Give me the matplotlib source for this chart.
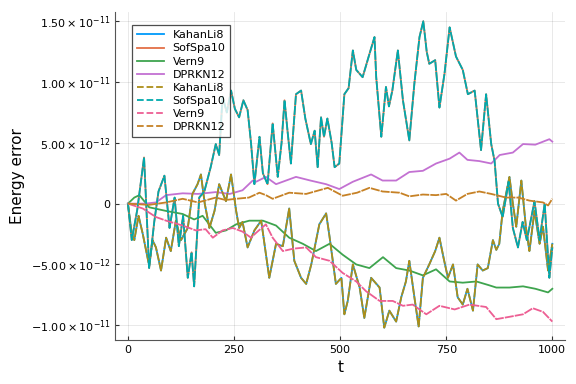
import numpy as np
import matplotlib
matplotlib.use('Agg')
import matplotlib.pyplot as plt
from matplotlib.ticker import FixedLocator, FixedFormatter

# values, energy error in units of 1e-12
t_kahan = [0, 9, 15, 25, 35, 50, 58, 66, 78, 90, 101, 113, 125, 141, 152, 164, 172, 181, 192, 204,
           215, 231, 243, 255, 262, 270, 282, 298, 314, 333, 349, 365, 380, 392, 408, 420, 432, 451,
           467, 475, 490, 503, 510, 518, 530, 546, 557, 573, 593, 604, 616, 632, 644, 655, 663, 675,
           685, 695, 710, 724, 734, 744, 754, 766, 777, 789, 800, 813, 824, 836, 848, 860, 868, 875,
           883, 899, 907, 915, 927, 938, 946, 958, 970, 978, 990, 1000]
e_kahan = [0, -2.5, -3.0, -1.0, -2.5, -5.1, -3.0, -3.6, -5.5, -2.8, -3.9, -1.4, -3.0, -2.0, 0.8, 1.6,
           2.4, 0.0, -2.0, -0.6, 1.6, 0.2, 2.4, -0.6, -2.0, -1.5, -3.6, -2.2, -1.4, -6.1, -3.3, -3.5,
           -0.4, -4.7, -6.1, -6.6, -5.0, -1.7, -0.8, -2.7, -6.6, -6.1, -9.1, -8.0, -5.0, -6.9, -9.4,
           -6.1, -6.9, -10.2, -8.8, -9.7, -7.7, -6.4, -4.7, -7.7, -10.1, -6.1, -5.0, -3.9, -2.8, -4.5,
           -6.1, -5.0, -7.7, -8.3, -7.0, -8.8, -5.0, -5.5, -5.3, -3.0, -3.8, -3.3, -0.6, 2.2, 0.0,
           -1.9, 1.9, -2.0, -3.9, -0.6, -3.3, -1.9, -5.5, -3.3]

t_sofspa = [0, 9, 22, 38, 50, 62, 72, 86, 98, 110, 120, 130, 141, 150, 156, 168, 180, 195, 207, 215,
            223, 233, 243, 252, 262, 272, 282, 290, 298, 310, 318, 329, 341, 353, 362, 369, 376, 384,
            396, 408, 418, 431, 440, 447, 455, 462, 470, 480, 487, 498, 510, 520, 530, 538, 553, 569,
            581, 585, 597, 608, 615, 623, 636, 648, 663, 675, 687, 696, 704, 710, 724, 734, 746, 758,
            773, 789, 801, 817, 832, 844, 856, 864, 872, 883, 897, 907, 919, 930, 940, 958, 970, 982,
            993, 1000]
e_sofspa = [0, -3.0, -0.5, 3.8, -5.3, -1.5, 1.0, 2.3, -2.0, 0.5, -3.5, -1.0, -6.1, -4.0, -6.8, 0.5,
            1.0, 3.0, 4.9, 4.0, 8.8, 7.5, 9.3, 7.8, 7.1, 8.5, 7.7, 5.0, 1.6, 5.5, 2.5, 1.6, 6.6, 2.2,
            5.0, 8.5, 6.0, 3.3, 9.0, 9.3, 7.0, 4.9, 6.0, 3.0, 7.1, 5.5, 7.0, 5.0, 3.0, 3.3, 9.0, 9.5,
            12.6, 11.0, 10.4, 12.3, 13.7, 10.4, 5.5, 9.6, 8.0, 9.3, 12.6, 8.5, 5.2, 9.9, 13.7, 15.0,
            12.5, 11.5, 11.8, 7.9, 10.7, 14.5, 12.1, 11.0, 9.0, 9.3, 4.4, 9.0, 4.9, 3.5, 0.0, -1.1,
            1.8, -2.0, -3.6, -1.5, -3.0, 0.2, -3.0, 0.0, -6.1, -3.6]

t_vern = [0, 15, 27, 50, 90, 129, 156, 176, 207, 231, 255, 286, 318, 349, 380, 412, 443, 475, 506,
          538, 569, 601, 632, 663, 695, 726, 758, 789, 821, 850, 868, 899, 931, 960, 990, 1000]
e_vern = [0, 0.5, 0.7, -0.3, -0.6, -0.85, -1.3, -1.0, -2.4, -2.2, -1.7, -1.4, -1.4, -1.8, -2.8, -3.3,
          -3.9, -3.3, -4.2, -5.0, -5.3, -4.4, -5.3, -5.5, -5.9, -5.4, -6.4, -6.5, -6.4, -6.7, -6.9,
          -6.9, -6.8, -7.0, -7.3, -7.0]

t_dprkn = [0, 40, 66, 90, 129, 165, 207, 240, 270, 294, 302, 325, 349, 396, 430, 467, 498, 530, 573,
           600, 632, 663, 695, 726, 758, 781, 800, 828, 856, 876, 907, 931, 960, 993, 1000]
e_dprkn = [0, 0.0, 0.1, 0.7, 0.85, 0.8, 0.95, 0.8, 1.1, 1.9, 1.8, 2.2, 1.6, 2.2, 1.9, 1.6, 1.2, 1.8,
           2.4, 1.9, 1.9, 2.6, 2.7, 3.3, 3.7, 4.2, 3.6, 3.5, 3.3, 4.0, 4.2, 4.9, 4.85, 5.3, 5.1]

# second run (dashed)
t_vern_b = [0, 35, 66, 90, 129, 160, 183, 200, 223, 247, 270, 290, 302, 325, 341, 365, 390, 420, 443,
            475, 506, 538, 561, 593, 624, 648, 671, 703, 734, 770, 805, 844, 868, 900, 931, 954, 978, 1000]
e_vern_b = [0, -0.4, -1.1, -1.4, -1.8, -2.2, -2.1, -2.8, -2.2, -2.0, -2.3, -2.8, -2.4, -1.7, -2.8,
            -3.9, -3.7, -3.6, -4.4, -4.7, -5.7, -6.4, -7.2, -8.0, -8.0, -8.4, -8.3, -9.1, -8.4, -8.7,
            -8.3, -8.5, -9.5, -9.3, -9.1, -8.6, -8.9, -9.7]

t_dprkn_b = [0, 50, 90, 129, 165, 207, 230, 255, 285, 310, 325, 341, 380, 420, 471, 506, 540, 569, 600,
             640, 663, 695, 726, 750, 773, 800, 828, 856, 891, 920, 946, 978, 990, 1000]
e_dprkn_b = [0, -0.1, 0.1, 0.4, 0.1, 0.5, 0.3, 0.4, 0.5, 0.9, 0.7, 0.4, 0.9, 0.8, 1.3, 0.65, 0.9, 1.3,
             1.0, 0.9, 0.6, 0.75, 0.7, 0.8, 0.25, 0.8, 1.0, 0.8, 0.5, 0.5, 0.25, 0.1, -0.15, 0.4]

ytick_vals = [-10, -5, 0, 5, 10, 15]
ytick_labels = [r'$-1.00\times10^{-11}$', r'$-5.00\times10^{-12}$', '0',
                r'$5.00\times10^{-12}$', r'$1.00\times10^{-11}$', r'$1.50\times10^{-11}$']
xtick_vals = [0, 250, 500, 750, 1000]

s = 1e-12
fig = plt.figure(figsize=(5.76, 3.84), dpi=100)
ax = fig.add_axes([0.2, 0.115, 0.781, 0.855])

lw = 1.3
tight = (0, (5, 0.6))  # dense data in the original hides most dash gaps
ax.plot(t_kahan, np.array(e_kahan) * s, color='#009AFA', lw=lw)
ax.plot(t_sofspa, np.array(e_sofspa) * s, color='#E36F47', lw=lw)
ax.plot(t_vern, np.array(e_vern) * s, color='#3EA44E', lw=lw)
ax.plot(t_dprkn, np.array(e_dprkn) * s, color='#C371D2', lw=lw)
ax.plot(t_kahan, np.array(e_kahan) * s, color='#AC8E18', lw=lw, ls=tight)
ax.plot(t_sofspa, np.array(e_sofspa) * s, color='#00A9AD', lw=lw, ls=tight)
ax.plot(t_vern_b, np.array(e_vern_b) * s, color='#ED5E93', lw=lw, ls=tight)
ax.plot(t_dprkn_b, np.array(e_dprkn_b) * s, color='#C68125', lw=lw, ls=tight)

names = ['KahanLi8', 'SofSpa10', 'Vern9', 'DPRKN12'] * 2
colors = ['#009AFA', '#E36F47', '#3EA44E', '#C371D2', '#AC8E18', '#00A9AD', '#ED5E93', '#C68125']
styles = ['-'] * 4 + ['--'] * 4
handles = [plt.Line2D([], [], color=c, ls=st, lw=lw) for c, st in zip(colors, styles)]

ax.set_xlim(-30, 1030)
ax.set_ylim(-11.2e-12, 15.8e-12)
ax.xaxis.set_major_locator(FixedLocator(xtick_vals))
ax.yaxis.set_major_locator(FixedLocator([v * s for v in ytick_vals]))
ax.yaxis.set_major_formatter(FixedFormatter(ytick_labels))
ax.tick_params(labelsize=8, length=3, width=0.8, color='#333333', direction='in')
ax.grid(True, color='#000000', alpha=0.1, lw=0.6)
for side in ['top', 'right']:
    ax.spines[side].set_visible(False)
for side in ['left', 'bottom']:
    ax.spines[side].set_color('#555555')

ax.set_xlabel('t', fontsize=11, labelpad=4)
ax.set_ylabel('Energy error', fontsize=11)

leg = ax.legend(handles, names, loc='upper left', fontsize=8, frameon=True, fancybox=False,
                labelspacing=0.28, handlelength=2.4, borderpad=0.45,
                bbox_to_anchor=(0.025, 0.975))
leg.get_frame().set_edgecolor('#222222')
leg.get_frame().set_linewidth(0.9)

fig.savefig('out.png', dpi=100)
